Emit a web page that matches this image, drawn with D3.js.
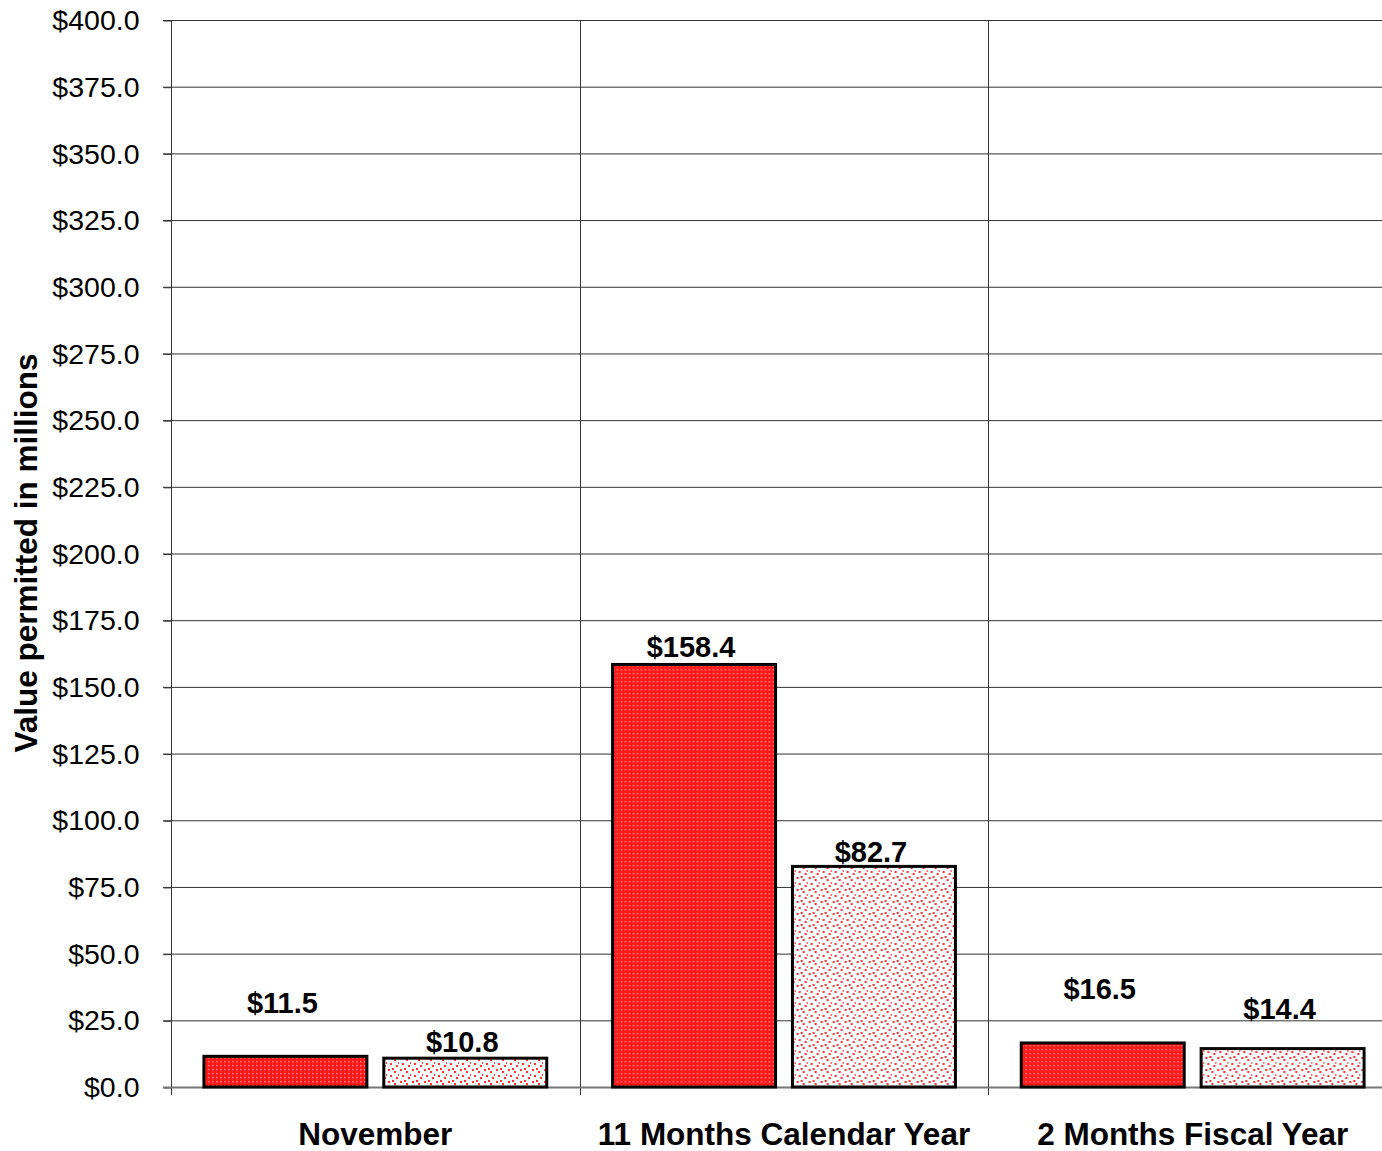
<!DOCTYPE html>
<html>
<head>
<meta charset="utf-8">
<script src="https://cdn.jsdelivr.net/npm/d3@7"></script>
<style>
  body { margin: 0; background: #fff; }
  text { font-family: "Liberation Sans", Arial, sans-serif; }
</style>
</head>
<body>
<div id="chart"></div>
<script>
// chart data
var categories = ["November", "11 Months Calendar Year", "2 Months Fiscal Year"];
var seriesA = [11.5, 158.4, 16.5];   // solid red pattern
var seriesB = [10.8, 82.7, 14.4];    // dotted pattern
var yTicks = [0, 25, 50, 75, 100, 125, 150, 175, 200, 225, 250, 275, 300, 325, 350, 375, 400];

// label lift above the bar top (px), as in the original
var liftA = [43, 7, 44];
var liftB = [6, 4, 30];

var W = 1382, H = 1151;
var m = {left: 171, top: 20, bottom: 64};
var plotRight = 1397; // last category runs past the page edge

var svg = d3.select("#chart").append("svg")
  .attr("width", W).attr("height", H);

// patterns
var defs = svg.append("defs");
var pA = defs.append("pattern").attr("id", "patA")
  .attr("patternUnits", "userSpaceOnUse").attr("width", 4).attr("height", 4);
pA.append("rect").attr("width", 4).attr("height", 4).attr("fill", "#ff1a1a");
pA.append("rect").attr("x", 1).attr("y", 1).attr("width", 1.5).attr("height", 1.5).attr("fill", "#ff8080");

var pB = defs.append("pattern").attr("id", "patB")
  .attr("patternUnits", "userSpaceOnUse").attr("width", 12).attr("height", 12);
pB.append("rect").attr("width", 12).attr("height", 12).attr("fill", "#fff");
[[1, 1], [7, 3], [3, 7], [9, 9], [5, 0], [11, 6]].forEach(function(p) {
  pB.append("rect").attr("x", p[0]).attr("y", p[1]).attr("width", 2).attr("height", 2).attr("fill", "#ff3030");
});

var x0 = d3.scaleBand().domain(categories).range([m.left, plotRight]).padding(0);
var y = d3.scaleLinear().domain([0, 400]).range([H - m.bottom, m.top]);

var inner = d3.scaleBand().domain(["A", "B"]).range([0, x0.bandwidth()])
  .paddingInner(0.094).paddingOuter(0.183);

// horizontal gridlines
svg.append("g").selectAll("line").data(yTicks.filter(function(d) { return d > 0; })).enter()
  .append("line")
  .attr("x1", m.left - 8).attr("x2", W)
  .attr("y1", function(d) { return y(d) + 0.5; }).attr("y2", function(d) { return y(d) + 0.5; })
  .attr("stroke", "#333").attr("stroke-width", 1);

// vertical category separators
var seps = categories.map(function(c) { return x0(c); });
svg.append("g").selectAll("line").data(seps).enter()
  .append("line")
  .attr("x1", function(d) { return Math.round(d) + 0.5; })
  .attr("x2", function(d) { return Math.round(d) + 0.5; })
  .attr("y1", m.top).attr("y2", H - m.bottom + 8)
  .attr("stroke", "#333").attr("stroke-width", 1);

// y axis
var yAxis = d3.axisLeft(y).tickValues(yTicks).tickSize(8)
  .tickFormat(function(d) { return "$" + d3.format(".1f")(d); });
var gy = svg.append("g").attr("transform", "translate(" + (m.left + 0.5) + ",0.5)").call(yAxis);
gy.select(".domain").remove();
gy.selectAll(".tick line").attr("stroke", "#333");
gy.selectAll(".tick text").attr("x", -32).attr("font-size", 28.5).attr("fill", "#000")
  .style("font-family", "Liberation Sans, Arial, sans-serif");

// baseline
svg.append("line")
  .attr("x1", m.left - 8).attr("x2", W)
  .attr("y1", y(0) + 0.5).attr("y2", y(0) + 0.5)
  .attr("stroke", "#777").attr("stroke-width", 2);

// bars
var rows = categories.map(function(c, i) {
  return [{cat: c, key: "A", v: seriesA[i], lift: liftA[i]},
          {cat: c, key: "B", v: seriesB[i], lift: liftB[i]}];
});
var groups = svg.append("g").selectAll("g").data(rows).enter().append("g")
  .attr("transform", function(d) { return "translate(" + x0(d[0].cat) + ",0)"; });

groups.selectAll("rect").data(function(d) { return d; }).enter().append("rect")
  .attr("x", function(d) { return inner(d.key); })
  .attr("width", inner.bandwidth())
  .attr("y", function(d) { return y(d.v); })
  .attr("height", function(d) { return y(0) - y(d.v); })
  .attr("fill", function(d) { return d.key === "A" ? "url(#patA)" : "url(#patB)"; })
  .attr("stroke", "#000").attr("stroke-width", 3);

groups.selectAll("text").data(function(d) { return d; }).enter().append("text")
  .attr("x", function(d) { return inner(d.key) + inner.bandwidth() / 2 - 3; })
  .attr("y", function(d) { return y(d.v) - d.lift; })
  .attr("text-anchor", "middle")
  .attr("font-size", 29).attr("font-weight", "bold")
  .text(function(d) { return "$" + d3.format(".1f")(d.v); });

// category labels
svg.append("g").selectAll("text").data(categories).enter().append("text")
  .attr("x", function(d) { return x0(d) + x0.bandwidth() / 2; })
  .attr("y", H - 6)
  .attr("text-anchor", "middle")
  .attr("font-size", 31.5).attr("font-weight", "bold")
  .text(function(d) { return d; });

// y title
svg.append("text")
  .attr("transform", "translate(37," + 553 + ") rotate(-90)")
  .attr("text-anchor", "middle")
  .attr("font-size", 31.5).attr("font-weight", "bold")
  .text("Value permitted in millions");
</script>
</body>
</html>
